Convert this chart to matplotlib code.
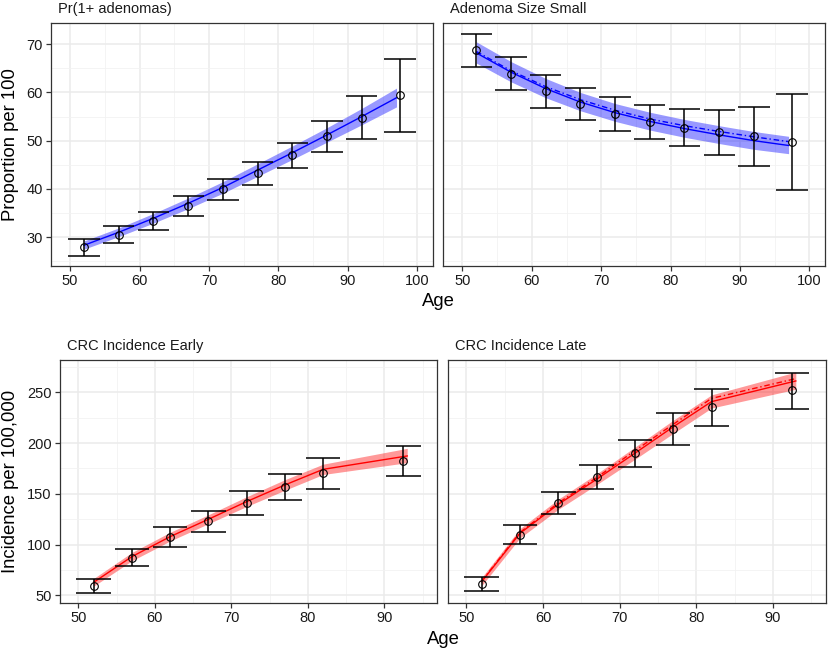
import matplotlib
matplotlib.use("Agg")
import matplotlib.pyplot as plt
from matplotlib.ticker import MultipleLocator

plt.rcParams['font.family'] = ['Liberation Sans', 'DejaVu Sans']

# observed data: ages, point estimates, error bar low/high
obs_age_top = [52, 57, 62, 67, 72, 77, 82, 87, 92, 97.5]
obs_age_bot = [52, 57, 62, 67, 72, 77, 82, 92.5]

# model ages
mod_age_top = [52, 57, 62, 67, 72, 77, 82, 87, 92, 97]
mod_age_bot = [52, 57, 62, 67, 72, 77, 82, 93]

# Pr(1+ adenomas)
p1_obs = [27.9, 30.5, 33.4, 36.5, 40.0, 43.3, 47.1, 50.9, 54.7, 59.4]
p1_lo = [26.1, 28.7, 31.5, 34.4, 37.7, 40.9, 44.4, 47.6, 50.3, 51.8]
p1_hi = [29.7, 32.4, 35.3, 38.5, 42.0, 45.5, 49.6, 54.1, 59.2, 66.9]
p1_mod = [28.3, 31.0, 33.9, 37.0, 40.3, 43.9, 47.5, 51.2, 55.0, 58.9]
p1_mod_lo = [27.5, 30.1, 32.9, 35.9, 39.1, 42.6, 46.1, 49.7, 53.3, 57.0]
p1_mod_hi = [29.2, 31.9, 34.9, 38.1, 41.5, 45.2, 48.9, 52.7, 56.7, 60.9]

# Adenoma Size Small
p2_obs = [68.7, 63.9, 60.2, 57.6, 55.6, 53.8, 52.7, 51.7, 50.9, 49.7]
p2_lo = [65.3, 60.5, 56.8, 54.2, 52.1, 50.3, 48.8, 47.1, 44.8, 39.8]
p2_hi = [72.2, 67.4, 63.6, 61.0, 59.0, 57.4, 56.6, 56.3, 56.9, 59.6]
p2_mod = [68.2, 64.2, 60.8, 58.0, 55.8, 54.0, 52.5, 51.2, 50.0, 49.0]
p2_mod2 = [68.5, 64.5, 61.2, 58.5, 56.3, 54.5, 53.1, 51.9, 50.8, 49.8]
p2_mod_lo = [66.1, 62.2, 58.9, 56.2, 54.0, 52.2, 50.7, 49.4, 48.2, 47.3]
p2_mod_hi = [70.5, 66.4, 62.9, 60.0, 57.7, 55.9, 54.4, 53.1, 51.9, 50.9]

# CRC Incidence Early
p3_obs = [59.5, 87.1, 107.5, 123.2, 141.0, 157.1, 170.2, 182.3]
p3_lo = [52.6, 78.6, 97.9, 112.7, 129.5, 143.6, 154.4, 167.6]
p3_hi = [66.4, 95.3, 117.0, 133.4, 153.1, 169.9, 185.6, 197.5]
p3_mod = [62.8, 88.1, 107.8, 124.9, 142.3, 158.7, 174.1, 187.3]
p3_mod_lo = [59.0, 84.0, 103.5, 120.5, 137.5, 153.5, 169.0, 180.7]
p3_mod_hi = [66.6, 92.2, 112.1, 129.3, 147.1, 163.9, 179.2, 194.8]

# CRC Incidence Late
p4_obs = [61.5, 109.8, 141.0, 166.9, 189.9, 214.2, 235.6, 252.0]
p4_lo = [54.6, 100.9, 130.5, 154.8, 176.1, 198.1, 217.2, 233.9]
p4_hi = [68.4, 119.6, 151.8, 178.7, 203.0, 229.3, 253.6, 269.4]
p4_mod = [63.5, 111.1, 139.7, 164.3, 190.0, 216.0, 240.8, 261.2]
p4_mod2 = [64.0, 112.0, 141.0, 166.0, 192.5, 218.5, 244.0, 263.5]
p4_mod_lo = [59.5, 106.5, 134.7, 159.0, 184.0, 209.5, 234.5, 253.0]
p4_mod_hi = [67.5, 115.7, 144.7, 169.6, 196.0, 222.5, 247.5, 270.0]

CAP = 2.25  # half width of error bar caps, in years

fig = plt.figure(figsize=(8.29, 6.52), dpi=100)

ax1 = fig.add_axes([0.0615, 0.592, 0.4608, 0.3727])
ax2 = fig.add_axes([0.5348, 0.592, 0.4604, 0.3727])
ax3 = fig.add_axes([0.0724, 0.0756, 0.4548, 0.3722])
ax4 = fig.add_axes([0.5404, 0.0756, 0.4556, 0.3722])


def style(ax, title, xlim, ylim, xmaj, ymaj, show_y=True):
    ax.set_xlim(*xlim)
    ax.set_ylim(*ylim)
    ax.xaxis.set_major_locator(MultipleLocator(xmaj))
    ax.xaxis.set_minor_locator(MultipleLocator(xmaj / 2))
    ax.yaxis.set_major_locator(MultipleLocator(ymaj))
    ax.yaxis.set_minor_locator(MultipleLocator(ymaj / 2))
    ax.grid(which='major', color='#EBEBEB', lw=1.1, zorder=0)
    ax.grid(which='minor', color='#F2F2F2', lw=0.6, zorder=0)
    ax.set_axisbelow(True)
    for s in ax.spines.values():
        s.set_color('#333333')
        s.set_linewidth(0.9)
    ax.tick_params(which='major', length=3.5, width=0.9, color='#333333',
                   labelsize=10.5, labelcolor='#1a1a1a', pad=2.5)
    ax.tick_params(which='minor', length=0)
    if not show_y:
        ax.tick_params(axis='y', which='major', length=0, labelleft=False)
    ax.annotate(title, xy=(0, 1), xycoords='axes fraction', xytext=(4.8, 10),
                textcoords='offset points', ha='left', va='center',
                fontsize=10.5, color='#1a1a1a')


def panel(ax, age_obs, obs, lo, hi, age_mod, mod, mlo, mhi, color, mod2=None):
    ax.fill_between(age_mod, mlo, mhi, color=color, alpha=0.4, lw=0, zorder=2)
    ax.plot(age_mod, mod, color=color, lw=1.0, zorder=3)
    if mod2 is not None:
        ax.plot(age_mod, mod2, color=color, lw=1.0, ls=(0, (4, 2, 1, 2)), zorder=3)
    # error bars: vertical line plus caps
    ax.vlines(age_obs, lo, hi, color='black', lw=1.1, zorder=4)
    left = [a - CAP for a in age_obs]
    right = [a + CAP for a in age_obs]
    ax.hlines(lo, left, right, color='black', lw=1.1, zorder=4)
    ax.hlines(hi, left, right, color='black', lw=1.1, zorder=4)
    ax.plot(age_obs, obs, 'o', mfc='none', mec='black', ms=5.5, mew=0.8, zorder=5)


panel(ax1, obs_age_top, p1_obs, p1_lo, p1_hi, mod_age_top, p1_mod, p1_mod_lo, p1_mod_hi, '#0000FF')
panel(ax2, obs_age_top, p2_obs, p2_lo, p2_hi, mod_age_top, p2_mod, p2_mod_lo, p2_mod_hi, '#0000FF', p2_mod2)
panel(ax3, obs_age_bot, p3_obs, p3_lo, p3_hi, mod_age_bot, p3_mod, p3_mod_lo, p3_mod_hi, '#FF0000')
panel(ax4, obs_age_bot, p4_obs, p4_lo, p4_hi, mod_age_bot, p4_mod, p4_mod_lo, p4_mod_hi, '#FF0000', p4_mod2)

style(ax1, 'Pr(1+ adenomas)', (47.25, 102.25), (24.0, 74.4), 10, 10)
style(ax2, 'Adenoma Size Small', (47.25, 102.25), (24.0, 74.4), 10, 10, show_y=False)
style(ax3, 'CRC Incidence Early', (47.6, 96.9), (42.7, 281.8), 10, 50)
style(ax4, 'CRC Incidence Late', (47.6, 96.9), (42.7, 281.8), 10, 50, show_y=False)

fig.text(11 / 829, 1 - 144.5 / 652, 'Proportion per 100', rotation=90,
         ha='center', va='center', fontsize=13.3)
fig.text(11 / 829, 1 - 481 / 652, 'Incidence per 100,000', rotation=90,
         ha='center', va='center', fontsize=13.3)
fig.text(438 / 829, 1 - 301 / 652, 'Age', ha='center', va='center', fontsize=13.3)
fig.text(443 / 829, 1 - 639 / 652, 'Age', ha='center', va='center', fontsize=13.3)

fig.savefig('out.png', dpi=100)
